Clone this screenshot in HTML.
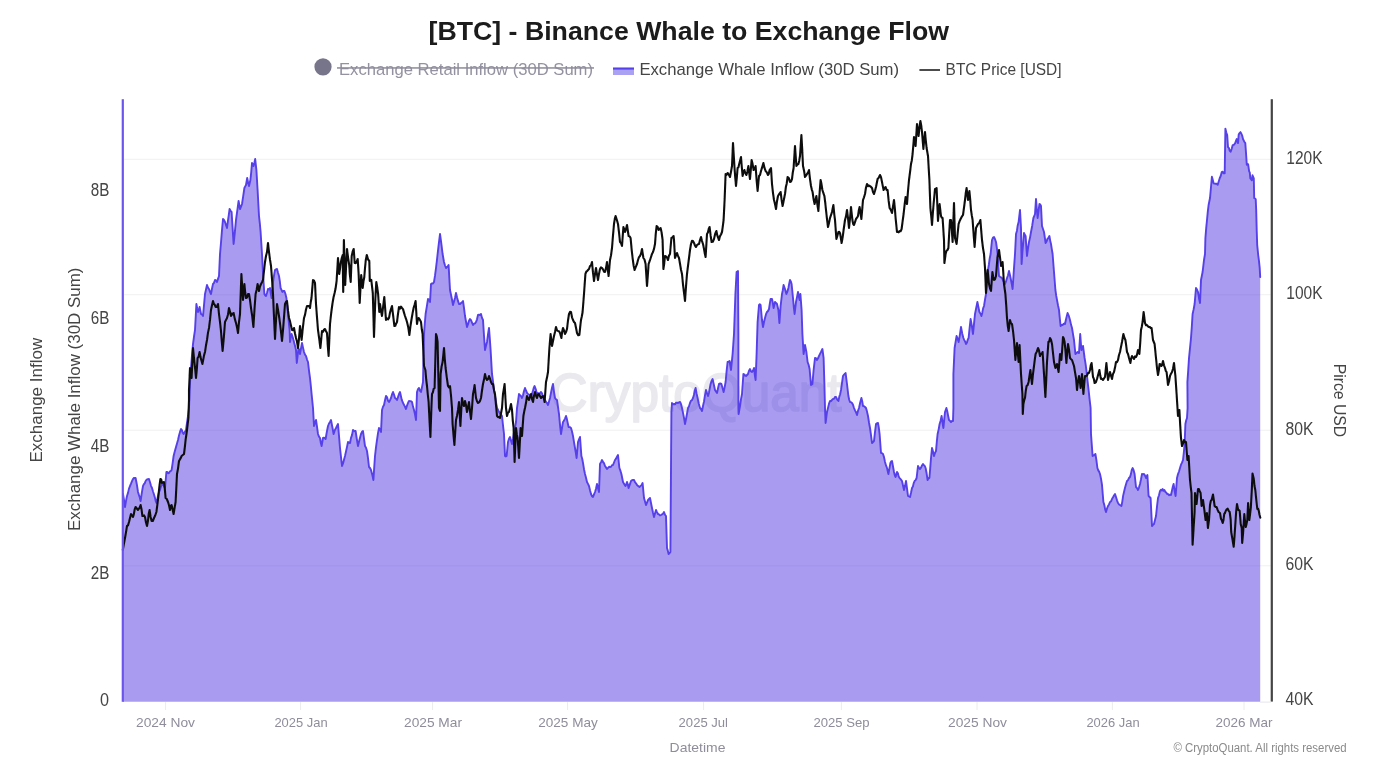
<!DOCTYPE html>
<html><head><meta charset="utf-8"><title>[BTC] - Binance Whale to Exchange Flow</title>
<style>
html,body{margin:0;padding:0;background:#fff;}
body{width:1385px;height:769px;overflow:hidden;font-family:"Liberation Sans", sans-serif;}
svg{display:block;}
svg text{font-family:"Liberation Sans", sans-serif;}
</style></head><body>
<svg width="1385" height="769" viewBox="0 0 1385 769">
<defs><filter id="soft" x="0" y="0" width="100%" height="100%"><feGaussianBlur stdDeviation="0.5"/></filter></defs>
<rect width="1385" height="769" fill="#fff"/>
<g filter="url(#soft)">
<!-- title -->
<text x="428.6" y="39.8" font-size="25" font-weight="700" fill="#1a1a1a" textLength="520.4" lengthAdjust="spacingAndGlyphs">[BTC] - Binance Whale to Exchange Flow</text>
<!-- legend -->
<circle cx="323" cy="66.8" r="8.6" fill="#77748a"/>
<text x="339" y="75" font-size="17" text-anchor="start" fill="#9492a1" textLength="254" lengthAdjust="spacingAndGlyphs">Exchange Retail Inflow (30D Sum)</text>
<rect x="337" y="67.2" width="257" height="1.5" fill="#8d8b99"/>
<rect x="613" y="67.6" width="21" height="7.4" fill="#aaa0f4"/>
<rect x="613" y="67.6" width="21" height="2" fill="#5540e9"/>
<text x="639.4" y="75" font-size="17" text-anchor="start" fill="#444" textLength="259.6" lengthAdjust="spacingAndGlyphs">Exchange Whale Inflow (30D Sum)</text>
<rect x="919.4" y="69.2" width="20.6" height="1.6" fill="#222"/>
<text x="945.6" y="75" font-size="17" text-anchor="start" fill="#444" textLength="116" lengthAdjust="spacingAndGlyphs">BTC Price [USD]</text>
<!-- grid -->
<line x1="124" x2="1271" y1="159.3" y2="159.3" stroke="#f0f0f0" stroke-width="1"/><line x1="124" x2="1271" y1="294.7" y2="294.7" stroke="#f0f0f0" stroke-width="1"/><line x1="124" x2="1271" y1="430.2" y2="430.2" stroke="#f0f0f0" stroke-width="1"/><line x1="124" x2="1271" y1="565.8" y2="565.8" stroke="#f0f0f0" stroke-width="1"/>
<line x1="165.6" x2="165.6" y1="702" y2="710" stroke="#ececec" stroke-width="1"/><line x1="300.6" x2="300.6" y1="702" y2="710" stroke="#ececec" stroke-width="1"/><line x1="432.6" x2="432.6" y1="702" y2="710" stroke="#ececec" stroke-width="1"/><line x1="567.6" x2="567.6" y1="702" y2="710" stroke="#ececec" stroke-width="1"/><line x1="703.6" x2="703.6" y1="702" y2="710" stroke="#ececec" stroke-width="1"/><line x1="841.4" x2="841.4" y1="702" y2="710" stroke="#ececec" stroke-width="1"/><line x1="977" x2="977" y1="702" y2="710" stroke="#ececec" stroke-width="1"/><line x1="1112.4" x2="1112.4" y1="702" y2="710" stroke="#ececec" stroke-width="1"/><line x1="1244" x2="1244" y1="702" y2="710" stroke="#ececec" stroke-width="1"/>
<!-- watermark -->
<text x="550.6" y="411.4" font-size="53" font-weight="400" fill="#e9e9ee" stroke="#e9e9ee" stroke-width="1.7" stroke-linejoin="round" textLength="291" lengthAdjust="spacingAndGlyphs">CryptoQuant</text>
<!-- area -->
<path d="M123.0,494.0 L124.0,500.2 L125.0,507.0 L126.0,500.9 L127.0,496.0 L128.0,492.9 L129.0,488.6 L130.0,486.0 L131.0,483.7 L132.0,481.1 L133.0,479.0 L133.9,477.9 L134.7,478.3 L135.6,478.0 L136.8,484.2 L138.0,492.0 L138.9,494.9 L139.7,497.2 L140.6,501.0 L141.8,492.8 L143.0,486.0 L143.9,484.2 L144.7,483.3 L145.6,481.0 L146.7,479.7 L147.9,479.2 L149.0,479.0 L150.0,482.2 L151.0,485.8 L152.0,488.0 L153.0,491.5 L154.0,494.5 L155.0,498.0 L155.8,501.4 L156.6,503.0 L157.8,496.7 L159.0,492.0 L160.0,490.0 L161.0,486.3 L162.0,484.0 L163.0,484.7 L164.0,486.0 L165.0,488.0 L166.4,472.0 L167.3,472.0 L168.1,473.2 L169.0,473.0 L169.9,471.4 L170.7,471.1 L171.6,470.0 L172.6,463.3 L173.6,456.0 L174.8,451.3 L176.0,447.0 L177.0,443.6 L178.0,440.0 L179.0,435.5 L180.0,431.9 L181.0,429.0 L181.9,430.1 L182.7,432.7 L183.6,434.0 L184.8,431.9 L186.0,430.0 L187.0,422.7 L188.0,416.0 L189.0,408.0 L190.4,374.0 L191.3,364.2 L192.1,353.9 L193.0,344.0 L194.0,336.6 L195.0,330.0 L196.4,304.0 L197.2,308.5 L198.0,312.0 L198.8,309.9 L199.6,307.0 L201.0,314.0 L202.0,314.5 L203.0,316.0 L204.0,305.1 L205.0,294.0 L206.0,289.5 L207.0,285.0 L208.0,287.7 L209.0,289.0 L210.0,291.9 L211.0,294.0 L212.0,288.6 L213.0,284.0 L214.0,282.9 L215.0,280.0 L216.0,280.3 L217.0,282.0 L218.0,278.9 L219.0,276.0 L220.0,254.0 L221.0,242.5 L222.0,230.0 L223.0,219.0 L224.0,219.9 L225.0,222.0 L226.0,225.0 L227.0,228.0 L227.9,220.8 L228.7,215.6 L229.6,209.0 L230.6,211.0 L231.6,212.0 L232.6,228.1 L233.6,244.0 L234.8,232.7 L236.0,220.0 L236.9,213.3 L237.7,207.7 L238.6,201.0 L240.0,209.0 L241.0,206.7 L242.0,204.0 L243.2,196.1 L244.4,188.0 L245.2,186.4 L246.0,185.0 L247.2,178.0 L248.1,182.6 L249.0,186.0 L250.4,180.0 L251.2,172.3 L252.0,163.0 L252.8,164.5 L253.6,166.0 L254.4,162.8 L255.2,159.0 L256.4,170.0 L257.6,190.0 L259.0,216.0 L259.8,223.2 L260.6,232.0 L262.0,254.0 L263.0,274.0 L264.4,294.0 L265.2,295.4 L266.0,296.0 L267.0,292.8 L268.0,289.0 L269.0,289.4 L270.0,288.0 L270.8,293.6 L271.6,298.0 L273.0,282.0 L274.0,275.6 L275.0,270.0 L276.0,269.3 L277.0,269.0 L278.0,272.8 L279.0,276.0 L279.8,281.1 L280.6,288.0 L281.5,289.9 L282.4,292.0 L283.4,290.9 L284.4,291.0 L285.4,293.8 L286.4,298.0 L287.2,305.2 L288.0,314.0 L288.8,322.5 L289.6,330.0 L290.0,342.0 L290.8,337.3 L291.6,334.0 L292.8,337.5 L294.0,342.0 L295.0,345.8 L296.0,350.0 L296.8,363.0 L297.6,356.2 L298.4,348.0 L299.2,350.2 L300.0,354.0 L301.0,348.4 L302.0,343.0 L303.0,347.6 L304.0,352.0 L305.0,354.7 L306.0,356.0 L307.0,359.6 L308.0,362.0 L309.0,370.7 L310.0,378.0 L310.8,385.6 L311.6,394.0 L313.0,408.0 L314.0,426.0 L315.0,422.8 L316.0,420.0 L317.0,426.7 L318.0,434.0 L319.0,436.7 L320.0,438.0 L320.8,442.8 L321.6,446.0 L323.0,438.0 L323.9,437.7 L324.7,438.1 L325.6,439.0 L326.8,432.0 L328.0,426.0 L329.0,423.5 L330.0,422.0 L331.0,420.0 L331.9,424.8 L332.7,428.9 L333.6,434.0 L334.8,430.1 L336.0,428.0 L337.0,425.9 L338.0,424.0 L339.0,435.8 L340.0,448.0 L341.0,457.1 L342.0,466.0 L343.0,463.5 L344.0,459.7 L345.0,456.0 L346.0,451.4 L347.0,446.9 L348.0,442.0 L349.0,442.8 L350.0,443.0 L351.0,437.9 L352.0,435.1 L353.0,430.0 L353.9,430.8 L354.7,431.3 L355.6,431.0 L356.8,439.0 L358.0,446.0 L359.0,441.8 L360.0,437.8 L361.0,434.0 L362.0,431.8 L363.0,431.0 L364.0,438.7 L365.0,446.0 L366.0,447.7 L367.0,451.0 L368.0,458.2 L369.0,467.0 L370.0,468.0 L371.0,470.0 L372.2,474.4 L373.4,480.0 L374.2,467.7 L375.0,456.0 L376.0,447.2 L377.0,440.0 L378.0,433.1 L379.0,428.0 L380.0,429.4 L381.0,432.0 L382.0,410.0 L383.0,406.8 L384.0,405.0 L385.0,400.3 L386.0,396.0 L387.0,397.1 L388.0,400.7 L389.0,402.0 L390.0,400.2 L391.0,398.0 L392.0,394.4 L393.0,392.0 L394.0,394.6 L395.0,398.0 L396.0,398.7 L397.0,400.0 L398.0,397.1 L399.0,394.0 L400.0,392.0 L400.9,396.0 L401.7,399.6 L402.6,402.0 L403.7,404.3 L404.9,406.6 L406.0,409.0 L407.0,405.6 L408.0,403.0 L409.0,401.0 L410.0,401.1 L411.0,401.2 L412.0,402.0 L413.0,406.6 L414.0,410.0 L415.0,414.4 L416.0,420.0 L417.0,392.0 L418.0,389.1 L419.0,388.0 L420.0,390.8 L421.0,392.0 L422.0,387.1 L423.0,382.0 L424.0,334.0 L424.8,323.4 L425.6,314.0 L426.8,306.6 L428.0,299.0 L429.0,299.6 L430.0,302.0 L431.0,284.0 L432.0,283.4 L433.0,283.5 L434.0,282.0 L435.0,275.7 L436.0,268.0 L436.8,261.4 L437.6,254.0 L438.8,243.6 L440.0,234.0 L440.9,240.4 L441.7,246.7 L442.6,254.0 L444.0,262.0 L445.0,265.5 L446.0,268.0 L446.9,267.1 L447.7,266.5 L448.6,265.0 L450.0,290.0 L451.0,294.7 L452.0,299.5 L453.0,305.0 L454.0,301.6 L455.0,297.9 L456.0,293.0 L457.0,297.3 L458.0,300.9 L459.0,304.0 L460.0,304.1 L461.0,303.0 L462.0,302.4 L463.0,301.0 L464.0,308.0 L465.0,316.0 L466.0,321.5 L467.0,327.0 L468.0,324.1 L469.0,320.8 L470.0,319.0 L471.0,320.2 L472.0,322.6 L473.0,325.0 L474.0,323.6 L475.0,323.3 L476.0,322.0 L477.0,319.3 L478.0,315.0 L479.0,314.6 L480.0,315.1 L481.0,314.0 L482.0,317.9 L483.0,320.0 L484.0,335.8 L485.0,350.0 L486.0,345.8 L487.0,342.0 L488.0,334.5 L489.0,328.0 L489.8,338.5 L490.6,350.0 L492.0,374.0 L493.0,381.5 L494.0,390.0 L495.0,395.5 L496.0,402.0 L497.0,408.0 L498.0,409.8 L499.0,411.9 L500.0,413.4 L501.0,414.4 L502.0,416.0 L503.0,425.3 L504.0,434.0 L505.0,456.0 L505.8,456.5 L506.6,456.0 L508.0,442.0 L509.0,438.8 L510.0,437.0 L511.0,440.8 L512.0,444.0 L513.0,438.7 L514.0,432.0 L515.0,427.5 L516.0,422.0 L517.0,408.0 L518.0,401.5 L519.0,394.0 L520.0,395.3 L521.0,396.1 L522.0,398.0 L523.0,395.2 L524.0,391.0 L525.0,388.0 L526.0,390.5 L527.0,392.8 L528.0,394.0 L529.0,394.5 L530.0,395.2 L531.0,396.0 L531.9,394.3 L532.8,391.4 L533.7,387.9 L534.6,386.0 L535.8,389.3 L537.0,394.0 L538.0,392.9 L539.0,393.7 L540.0,393.1 L541.0,392.0 L542.0,393.4 L543.0,396.6 L544.0,398.9 L545.0,400.0 L546.0,401.9 L547.0,403.1 L548.0,405.0 L549.0,401.6 L550.0,398.0 L551.0,392.7 L552.0,387.8 L553.0,384.0 L554.0,391.8 L555.0,398.0 L556.0,399.3 L557.0,400.0 L558.0,407.0 L559.0,414.0 L560.0,424.8 L561.0,434.0 L562.0,427.9 L563.0,422.0 L564.0,420.7 L565.0,418.6 L566.0,416.0 L566.9,419.1 L567.7,422.9 L568.6,427.0 L569.8,427.1 L571.0,428.0 L572.0,431.5 L573.0,436.0 L574.0,442.2 L575.0,448.0 L575.8,452.6 L576.6,458.0 L578.0,442.0 L579.0,439.4 L580.0,437.0 L581.4,456.0 L582.2,458.8 L583.0,463.0 L584.0,469.2 L585.0,474.0 L586.0,477.7 L587.0,482.0 L588.0,483.9 L589.0,486.0 L590.0,490.2 L591.0,494.0 L592.0,496.2 L593.0,497.0 L594.0,494.4 L595.0,492.0 L596.0,488.8 L597.0,484.0 L598.0,488.0 L599.0,492.0 L600.0,464.0 L601.0,462.1 L602.0,460.0 L603.0,462.0 L604.0,463.1 L605.0,466.0 L606.0,467.4 L607.0,469.0 L608.0,467.8 L609.0,466.8 L610.0,467.0 L611.0,466.9 L612.0,465.1 L613.0,465.0 L614.0,462.5 L615.0,460.0 L616.0,458.7 L617.0,456.8 L618.0,455.0 L619.4,468.0 L620.4,470.7 L621.4,474.0 L622.2,478.0 L623.0,482.0 L624.2,484.1 L625.4,486.0 L626.2,484.5 L627.0,482.0 L627.8,484.3 L628.6,488.0 L629.8,484.6 L631.0,481.0 L632.0,480.2 L633.0,479.9 L634.0,480.0 L635.0,482.2 L636.0,483.3 L637.0,485.0 L638.2,486.1 L639.4,487.0 L640.5,486.1 L641.5,485.1 L642.6,483.0 L644.0,498.0 L645.0,501.4 L646.0,505.0 L647.0,502.7 L648.0,500.0 L649.0,499.0 L650.0,498.0 L651.0,503.0 L652.0,508.0 L653.0,512.8 L654.0,517.0 L655.0,513.4 L656.0,510.0 L657.0,512.1 L658.0,514.0 L659.0,514.3 L660.0,515.5 L661.0,515.0 L662.0,514.4 L663.0,513.7 L664.0,512.0 L665.0,514.8 L666.0,516.0 L667.0,548.0 L667.8,550.6 L668.6,554.0 L669.5,553.1 L670.4,552.0 L671.0,468.0 L671.4,412.0 L672.0,403.0 L673.0,404.3 L674.0,404.0 L675.0,404.4 L676.0,402.8 L677.0,402.6 L678.0,403.0 L679.0,402.4 L680.0,402.0 L681.0,404.2 L682.0,408.0 L683.0,412.9 L684.0,417.9 L685.0,424.0 L686.0,419.0 L687.0,413.8 L688.0,408.0 L689.0,406.2 L690.0,403.0 L691.0,400.7 L692.0,400.1 L693.0,398.0 L693.9,395.0 L694.7,390.7 L695.6,388.0 L696.6,393.7 L697.6,398.0 L698.8,403.8 L700.0,408.0 L701.0,409.0 L702.0,411.0 L703.0,406.0 L704.0,401.5 L705.0,395.2 L706.0,390.0 L707.0,393.0 L708.0,396.0 L708.9,392.9 L709.7,388.6 L710.6,384.0 L711.6,380.9 L712.6,379.0 L713.8,384.4 L715.0,390.0 L716.0,391.5 L717.0,393.0 L718.0,388.2 L719.0,384.0 L720.2,383.5 L721.4,384.0 L722.5,387.7 L723.6,392.0 L724.6,387.4 L725.6,382.0 L726.6,371.1 L727.6,362.0 L728.6,361.6 L729.6,361.0 L731.0,370.0 L731.8,361.9 L732.6,354.0 L734.0,334.0 L735.4,294.0 L736.6,272.0 L738.0,271.0 L738.4,334.0 L738.4,408.0 L738.6,414.0 L740.0,406.0 L741.0,399.1 L742.0,394.0 L743.4,374.0 L744.3,374.4 L745.1,375.6 L746.0,376.0 L747.0,375.0 L748.0,374.0 L749.0,370.7 L750.0,369.0 L751.0,371.4 L752.0,372.0 L753.0,370.5 L754.0,368.0 L754.8,374.8 L755.6,380.0 L756.6,354.0 L757.6,322.0 L759.0,305.0 L759.8,304.3 L760.6,305.0 L762.0,320.0 L763.0,327.0 L764.0,322.1 L765.0,318.0 L766.0,314.2 L767.0,312.0 L768.0,311.0 L769.0,309.0 L769.8,303.6 L770.6,299.0 L772.0,299.0 L772.8,302.8 L773.6,308.0 L775.0,302.0 L776.0,302.9 L777.0,304.0 L778.4,310.0 L779.4,323.0 L780.6,306.0 L782.0,294.0 L782.8,290.2 L783.6,285.0 L785.0,289.0 L786.4,294.0 L787.4,291.6 L788.4,288.0 L789.2,283.6 L790.0,280.0 L790.8,281.4 L791.6,284.0 L793.0,298.0 L793.8,306.8 L794.6,314.0 L796.0,302.0 L797.0,297.1 L798.0,292.0 L798.8,296.4 L799.6,300.0 L800.4,294.0 L801.6,310.0 L802.4,334.0 L803.6,354.0 L805.0,345.0 L806.4,352.0 L807.6,362.0 L808.6,364.8 L809.6,369.0 L811.0,385.0 L812.4,384.0 L813.6,370.0 L815.0,358.0 L816.0,358.2 L817.0,360.0 L818.0,358.3 L819.0,356.0 L820.0,353.9 L821.0,352.0 L822.4,349.0 L823.6,358.0 L824.4,384.0 L825.0,408.0 L825.6,423.0 L827.0,412.0 L828.0,408.0 L829.0,403.7 L830.0,401.0 L831.0,401.1 L832.0,399.9 L833.0,399.0 L834.0,398.9 L835.0,396.9 L836.0,397.0 L837.2,399.6 L838.4,401.0 L839.3,396.6 L840.1,394.3 L841.0,390.0 L842.0,382.9 L843.0,376.0 L843.9,374.7 L844.7,374.1 L845.6,373.0 L847.0,384.0 L848.4,396.0 L849.2,399.8 L850.0,402.0 L851.0,402.1 L852.0,403.0 L853.0,404.8 L854.0,408.0 L855.0,410.4 L856.0,412.2 L857.0,415.0 L858.0,410.8 L859.0,408.0 L860.2,402.4 L861.4,398.0 L862.2,401.2 L863.0,406.0 L864.0,406.1 L865.0,407.0 L866.0,408.0 L867.0,411.6 L868.0,416.0 L869.0,422.5 L870.0,428.0 L871.0,435.1 L872.0,443.0 L873.0,442.0 L874.0,441.0 L875.0,431.9 L876.0,424.0 L877.0,423.2 L878.0,423.0 L878.8,427.6 L879.6,434.0 L881.0,453.0 L882.0,453.1 L883.0,454.0 L884.0,457.1 L885.0,462.0 L886.0,465.4 L887.0,468.0 L888.4,474.0 L889.4,468.6 L890.4,463.0 L891.2,461.4 L892.0,461.0 L893.0,466.5 L894.0,472.0 L894.8,475.3 L895.6,477.0 L897.0,472.0 L897.9,473.3 L898.7,476.6 L899.6,478.0 L900.8,479.4 L902.0,481.0 L903.0,485.5 L904.0,490.0 L905.0,486.1 L906.0,481.0 L907.0,488.3 L908.0,496.0 L909.0,496.5 L910.0,497.0 L911.0,492.8 L912.0,488.0 L912.9,486.5 L913.7,483.1 L914.6,481.0 L915.6,480.1 L916.6,478.0 L918.0,466.0 L919.0,467.9 L920.0,469.0 L921.0,467.6 L922.0,465.5 L923.0,464.0 L923.9,465.1 L924.7,465.9 L925.6,468.0 L926.6,473.3 L927.6,480.0 L928.5,478.2 L929.4,478.0 L930.2,468.4 L931.0,458.0 L932.0,448.0 L933.0,451.6 L934.0,456.0 L935.0,452.9 L936.0,451.0 L936.8,441.8 L937.6,434.0 L938.6,429.6 L939.6,424.0 L940.6,420.7 L941.6,416.0 L942.5,422.3 L943.4,428.0 L944.2,419.6 L945.0,412.0 L946.4,408.0 L947.3,411.5 L948.1,415.6 L949.0,420.0 L950.0,420.9 L951.0,422.0 L952.0,420.9 L953.0,421.0 L953.4,408.0 L953.4,374.0 L954.6,348.0 L955.6,341.9 L956.6,336.0 L957.6,338.6 L958.6,342.0 L959.8,335.3 L961.0,327.0 L962.2,333.4 L963.4,338.0 L964.3,340.1 L965.1,341.5 L966.0,344.0 L966.9,342.8 L967.7,339.7 L968.6,338.0 L969.6,328.2 L970.6,319.0 L971.8,325.6 L973.0,334.0 L974.0,323.8 L975.0,314.0 L976.2,308.0 L977.4,302.0 L978.4,307.0 L979.4,312.0 L980.4,313.5 L981.4,316.0 L982.3,312.7 L983.1,308.4 L984.0,306.0 L985.0,299.6 L986.0,294.0 L987.0,281.3 L988.0,270.0 L988.9,264.5 L989.7,258.5 L990.6,254.0 L992.0,240.0 L993.0,237.6 L994.0,237.0 L995.0,239.1 L996.0,242.0 L996.8,247.5 L997.6,254.0 L999.0,276.0 L1000.0,276.8 L1001.0,277.4 L1002.0,278.0 L1003.0,280.5 L1004.0,282.3 L1005.0,284.0 L1006.0,281.4 L1007.0,278.0 L1008.0,275.2 L1009.0,271.0 L1010.0,275.3 L1011.0,280.0 L1011.8,284.2 L1012.6,289.0 L1014.0,268.0 L1015.0,254.0 L1016.0,234.0 L1016.9,230.9 L1017.7,225.4 L1018.6,222.0 L1020.0,210.0 L1021.0,228.0 L1021.6,264.0 L1022.4,252.0 L1023.2,242.9 L1024.0,233.0 L1024.8,234.8 L1025.6,236.0 L1027.0,256.0 L1028.0,248.2 L1029.0,242.0 L1030.0,237.6 L1031.0,232.0 L1032.2,225.7 L1033.4,218.0 L1034.2,216.2 L1035.0,214.0 L1036.0,199.0 L1036.8,208.9 L1037.6,218.0 L1038.5,211.6 L1039.4,204.0 L1040.2,204.4 L1041.0,206.0 L1042.0,226.0 L1043.0,229.0 L1044.0,232.0 L1044.8,237.5 L1045.6,243.0 L1046.5,241.6 L1047.4,239.0 L1048.4,238.0 L1049.4,236.0 L1050.2,240.6 L1051.0,244.0 L1051.8,249.2 L1052.6,254.0 L1054.0,272.0 L1055.4,290.0 L1056.2,295.7 L1057.0,300.0 L1058.0,305.3 L1059.0,310.0 L1059.8,318.3 L1060.6,326.0 L1061.6,325.0 L1062.6,325.0 L1063.8,323.7 L1065.0,324.0 L1065.9,319.7 L1066.7,316.4 L1067.6,313.0 L1068.8,315.8 L1070.0,320.0 L1071.0,324.6 L1072.0,328.0 L1073.0,334.1 L1074.0,340.0 L1075.4,354.0 L1076.4,353.2 L1077.4,352.0 L1078.2,352.7 L1079.0,353.0 L1080.2,334.0 L1081.4,350.0 L1082.2,348.3 L1083.0,346.0 L1083.8,352.0 L1084.6,358.0 L1085.6,364.1 L1086.6,372.0 L1087.6,381.5 L1088.6,390.0 L1089.6,399.4 L1090.6,408.0 L1091.0,434.0 L1091.8,445.0 L1092.6,456.0 L1093.5,455.4 L1094.5,455.0 L1095.4,454.0 L1096.4,460.2 L1097.4,468.0 L1098.3,470.4 L1099.1,471.6 L1100.0,474.0 L1101.0,478.7 L1102.0,485.0 L1103.4,502.0 L1104.3,504.9 L1105.1,509.1 L1106.0,512.0 L1107.0,508.5 L1108.0,506.0 L1109.0,504.4 L1110.0,502.0 L1111.0,501.4 L1112.0,499.0 L1113.0,497.3 L1114.0,495.5 L1115.0,494.0 L1116.0,497.0 L1117.0,500.3 L1118.0,503.0 L1119.1,504.5 L1120.3,505.2 L1121.4,506.0 L1122.3,501.6 L1123.1,495.9 L1124.0,492.0 L1125.0,487.7 L1126.0,484.2 L1127.0,481.0 L1128.0,480.1 L1129.0,478.0 L1130.0,477.0 L1130.9,474.1 L1131.7,470.1 L1132.6,468.0 L1133.6,470.2 L1134.6,474.0 L1136.0,487.0 L1137.0,488.1 L1138.0,490.0 L1139.0,487.3 L1140.0,484.0 L1141.0,479.3 L1142.0,474.0 L1143.0,474.3 L1144.0,474.0 L1145.0,475.6 L1146.0,478.0 L1147.4,475.0 L1148.6,496.0 L1149.6,497.0 L1150.6,498.0 L1152.0,526.0 L1153.0,524.9 L1154.0,524.0 L1155.0,519.9 L1156.0,516.0 L1157.0,506.3 L1158.0,498.0 L1159.0,495.2 L1160.0,491.0 L1160.9,489.8 L1161.7,490.5 L1162.6,489.0 L1163.5,490.8 L1164.5,490.1 L1165.4,492.0 L1166.3,492.6 L1167.1,493.9 L1168.0,494.0 L1169.0,495.2 L1170.0,494.6 L1171.0,495.0 L1171.9,490.9 L1172.7,487.1 L1173.6,484.0 L1174.6,490.8 L1175.6,496.0 L1177.0,478.0 L1178.0,474.1 L1179.0,471.5 L1180.0,468.0 L1181.0,464.7 L1182.0,462.7 L1183.0,460.0 L1183.8,452.8 L1184.6,444.0 L1185.4,424.0 L1186.2,420.3 L1187.0,418.0 L1187.6,408.0 L1187.4,382.0 L1188.2,370.6 L1189.0,358.0 L1190.0,348.0 L1191.0,338.0 L1191.8,326.7 L1192.6,314.0 L1193.6,309.4 L1194.6,304.0 L1196.0,288.0 L1197.0,289.5 L1198.0,292.0 L1199.0,298.2 L1200.0,303.0 L1201.0,280.0 L1201.8,276.0 L1202.6,272.0 L1204.0,260.0 L1205.0,254.0 L1205.4,238.0 L1206.2,228.1 L1207.0,220.0 L1207.8,211.6 L1208.6,205.0 L1210.0,198.0 L1211.0,187.0 L1211.9,176.8 L1212.8,180.0 L1213.6,183.3 L1214.6,183.6 L1215.7,183.7 L1216.7,183.8 L1217.7,184.8 L1218.7,181.4 L1219.7,178.2 L1220.7,176.0 L1221.7,172.2 L1222.7,171.7 L1223.7,173.4 L1224.7,173.3 L1225.0,153.2 L1225.4,128.6 L1226.3,132.5 L1227.2,135.1 L1228.0,147.1 L1228.9,147.9 L1229.8,150.9 L1230.7,151.7 L1231.7,148.8 L1232.7,145.1 L1234.0,144.8 L1235.2,143.1 L1236.0,140.7 L1236.7,139.1 L1238.0,143.1 L1238.7,134.6 L1239.6,133.1 L1240.5,132.1 L1241.3,133.7 L1242.2,135.6 L1243.0,139.0 L1243.8,140.6 L1244.5,142.0 L1245.3,143.1 L1246.1,154.2 L1246.8,164.7 L1248.1,164.2 L1249.1,171.2 L1249.8,172.7 L1250.3,178.3 L1251.0,179.0 L1251.8,180.3 L1252.5,175.3 L1253.8,178.3 L1254.2,198.1 L1255.0,198.5 L1255.7,199.1 L1256.2,210.2 L1256.7,230.2 L1257.2,245.0 L1258.2,255.0 L1259.0,261.1 L1259.7,268.0 L1260.2,277.0 L1260.2,701.8 L123.0,701.8 Z" fill="#5138e2" fill-opacity="0.5" stroke="none"/>
<path d="M123.0,494.0 L124.0,500.2 L125.0,507.0 L126.0,500.9 L127.0,496.0 L128.0,492.9 L129.0,488.6 L130.0,486.0 L131.0,483.7 L132.0,481.1 L133.0,479.0 L133.9,477.9 L134.7,478.3 L135.6,478.0 L136.8,484.2 L138.0,492.0 L138.9,494.9 L139.7,497.2 L140.6,501.0 L141.8,492.8 L143.0,486.0 L143.9,484.2 L144.7,483.3 L145.6,481.0 L146.7,479.7 L147.9,479.2 L149.0,479.0 L150.0,482.2 L151.0,485.8 L152.0,488.0 L153.0,491.5 L154.0,494.5 L155.0,498.0 L155.8,501.4 L156.6,503.0 L157.8,496.7 L159.0,492.0 L160.0,490.0 L161.0,486.3 L162.0,484.0 L163.0,484.7 L164.0,486.0 L165.0,488.0 L166.4,472.0 L167.3,472.0 L168.1,473.2 L169.0,473.0 L169.9,471.4 L170.7,471.1 L171.6,470.0 L172.6,463.3 L173.6,456.0 L174.8,451.3 L176.0,447.0 L177.0,443.6 L178.0,440.0 L179.0,435.5 L180.0,431.9 L181.0,429.0 L181.9,430.1 L182.7,432.7 L183.6,434.0 L184.8,431.9 L186.0,430.0 L187.0,422.7 L188.0,416.0 L189.0,408.0 L190.4,374.0 L191.3,364.2 L192.1,353.9 L193.0,344.0 L194.0,336.6 L195.0,330.0 L196.4,304.0 L197.2,308.5 L198.0,312.0 L198.8,309.9 L199.6,307.0 L201.0,314.0 L202.0,314.5 L203.0,316.0 L204.0,305.1 L205.0,294.0 L206.0,289.5 L207.0,285.0 L208.0,287.7 L209.0,289.0 L210.0,291.9 L211.0,294.0 L212.0,288.6 L213.0,284.0 L214.0,282.9 L215.0,280.0 L216.0,280.3 L217.0,282.0 L218.0,278.9 L219.0,276.0 L220.0,254.0 L221.0,242.5 L222.0,230.0 L223.0,219.0 L224.0,219.9 L225.0,222.0 L226.0,225.0 L227.0,228.0 L227.9,220.8 L228.7,215.6 L229.6,209.0 L230.6,211.0 L231.6,212.0 L232.6,228.1 L233.6,244.0 L234.8,232.7 L236.0,220.0 L236.9,213.3 L237.7,207.7 L238.6,201.0 L240.0,209.0 L241.0,206.7 L242.0,204.0 L243.2,196.1 L244.4,188.0 L245.2,186.4 L246.0,185.0 L247.2,178.0 L248.1,182.6 L249.0,186.0 L250.4,180.0 L251.2,172.3 L252.0,163.0 L252.8,164.5 L253.6,166.0 L254.4,162.8 L255.2,159.0 L256.4,170.0 L257.6,190.0 L259.0,216.0 L259.8,223.2 L260.6,232.0 L262.0,254.0 L263.0,274.0 L264.4,294.0 L265.2,295.4 L266.0,296.0 L267.0,292.8 L268.0,289.0 L269.0,289.4 L270.0,288.0 L270.8,293.6 L271.6,298.0 L273.0,282.0 L274.0,275.6 L275.0,270.0 L276.0,269.3 L277.0,269.0 L278.0,272.8 L279.0,276.0 L279.8,281.1 L280.6,288.0 L281.5,289.9 L282.4,292.0 L283.4,290.9 L284.4,291.0 L285.4,293.8 L286.4,298.0 L287.2,305.2 L288.0,314.0 L288.8,322.5 L289.6,330.0 L290.0,342.0 L290.8,337.3 L291.6,334.0 L292.8,337.5 L294.0,342.0 L295.0,345.8 L296.0,350.0 L296.8,363.0 L297.6,356.2 L298.4,348.0 L299.2,350.2 L300.0,354.0 L301.0,348.4 L302.0,343.0 L303.0,347.6 L304.0,352.0 L305.0,354.7 L306.0,356.0 L307.0,359.6 L308.0,362.0 L309.0,370.7 L310.0,378.0 L310.8,385.6 L311.6,394.0 L313.0,408.0 L314.0,426.0 L315.0,422.8 L316.0,420.0 L317.0,426.7 L318.0,434.0 L319.0,436.7 L320.0,438.0 L320.8,442.8 L321.6,446.0 L323.0,438.0 L323.9,437.7 L324.7,438.1 L325.6,439.0 L326.8,432.0 L328.0,426.0 L329.0,423.5 L330.0,422.0 L331.0,420.0 L331.9,424.8 L332.7,428.9 L333.6,434.0 L334.8,430.1 L336.0,428.0 L337.0,425.9 L338.0,424.0 L339.0,435.8 L340.0,448.0 L341.0,457.1 L342.0,466.0 L343.0,463.5 L344.0,459.7 L345.0,456.0 L346.0,451.4 L347.0,446.9 L348.0,442.0 L349.0,442.8 L350.0,443.0 L351.0,437.9 L352.0,435.1 L353.0,430.0 L353.9,430.8 L354.7,431.3 L355.6,431.0 L356.8,439.0 L358.0,446.0 L359.0,441.8 L360.0,437.8 L361.0,434.0 L362.0,431.8 L363.0,431.0 L364.0,438.7 L365.0,446.0 L366.0,447.7 L367.0,451.0 L368.0,458.2 L369.0,467.0 L370.0,468.0 L371.0,470.0 L372.2,474.4 L373.4,480.0 L374.2,467.7 L375.0,456.0 L376.0,447.2 L377.0,440.0 L378.0,433.1 L379.0,428.0 L380.0,429.4 L381.0,432.0 L382.0,410.0 L383.0,406.8 L384.0,405.0 L385.0,400.3 L386.0,396.0 L387.0,397.1 L388.0,400.7 L389.0,402.0 L390.0,400.2 L391.0,398.0 L392.0,394.4 L393.0,392.0 L394.0,394.6 L395.0,398.0 L396.0,398.7 L397.0,400.0 L398.0,397.1 L399.0,394.0 L400.0,392.0 L400.9,396.0 L401.7,399.6 L402.6,402.0 L403.7,404.3 L404.9,406.6 L406.0,409.0 L407.0,405.6 L408.0,403.0 L409.0,401.0 L410.0,401.1 L411.0,401.2 L412.0,402.0 L413.0,406.6 L414.0,410.0 L415.0,414.4 L416.0,420.0 L417.0,392.0 L418.0,389.1 L419.0,388.0 L420.0,390.8 L421.0,392.0 L422.0,387.1 L423.0,382.0 L424.0,334.0 L424.8,323.4 L425.6,314.0 L426.8,306.6 L428.0,299.0 L429.0,299.6 L430.0,302.0 L431.0,284.0 L432.0,283.4 L433.0,283.5 L434.0,282.0 L435.0,275.7 L436.0,268.0 L436.8,261.4 L437.6,254.0 L438.8,243.6 L440.0,234.0 L440.9,240.4 L441.7,246.7 L442.6,254.0 L444.0,262.0 L445.0,265.5 L446.0,268.0 L446.9,267.1 L447.7,266.5 L448.6,265.0 L450.0,290.0 L451.0,294.7 L452.0,299.5 L453.0,305.0 L454.0,301.6 L455.0,297.9 L456.0,293.0 L457.0,297.3 L458.0,300.9 L459.0,304.0 L460.0,304.1 L461.0,303.0 L462.0,302.4 L463.0,301.0 L464.0,308.0 L465.0,316.0 L466.0,321.5 L467.0,327.0 L468.0,324.1 L469.0,320.8 L470.0,319.0 L471.0,320.2 L472.0,322.6 L473.0,325.0 L474.0,323.6 L475.0,323.3 L476.0,322.0 L477.0,319.3 L478.0,315.0 L479.0,314.6 L480.0,315.1 L481.0,314.0 L482.0,317.9 L483.0,320.0 L484.0,335.8 L485.0,350.0 L486.0,345.8 L487.0,342.0 L488.0,334.5 L489.0,328.0 L489.8,338.5 L490.6,350.0 L492.0,374.0 L493.0,381.5 L494.0,390.0 L495.0,395.5 L496.0,402.0 L497.0,408.0 L498.0,409.8 L499.0,411.9 L500.0,413.4 L501.0,414.4 L502.0,416.0 L503.0,425.3 L504.0,434.0 L505.0,456.0 L505.8,456.5 L506.6,456.0 L508.0,442.0 L509.0,438.8 L510.0,437.0 L511.0,440.8 L512.0,444.0 L513.0,438.7 L514.0,432.0 L515.0,427.5 L516.0,422.0 L517.0,408.0 L518.0,401.5 L519.0,394.0 L520.0,395.3 L521.0,396.1 L522.0,398.0 L523.0,395.2 L524.0,391.0 L525.0,388.0 L526.0,390.5 L527.0,392.8 L528.0,394.0 L529.0,394.5 L530.0,395.2 L531.0,396.0 L531.9,394.3 L532.8,391.4 L533.7,387.9 L534.6,386.0 L535.8,389.3 L537.0,394.0 L538.0,392.9 L539.0,393.7 L540.0,393.1 L541.0,392.0 L542.0,393.4 L543.0,396.6 L544.0,398.9 L545.0,400.0 L546.0,401.9 L547.0,403.1 L548.0,405.0 L549.0,401.6 L550.0,398.0 L551.0,392.7 L552.0,387.8 L553.0,384.0 L554.0,391.8 L555.0,398.0 L556.0,399.3 L557.0,400.0 L558.0,407.0 L559.0,414.0 L560.0,424.8 L561.0,434.0 L562.0,427.9 L563.0,422.0 L564.0,420.7 L565.0,418.6 L566.0,416.0 L566.9,419.1 L567.7,422.9 L568.6,427.0 L569.8,427.1 L571.0,428.0 L572.0,431.5 L573.0,436.0 L574.0,442.2 L575.0,448.0 L575.8,452.6 L576.6,458.0 L578.0,442.0 L579.0,439.4 L580.0,437.0 L581.4,456.0 L582.2,458.8 L583.0,463.0 L584.0,469.2 L585.0,474.0 L586.0,477.7 L587.0,482.0 L588.0,483.9 L589.0,486.0 L590.0,490.2 L591.0,494.0 L592.0,496.2 L593.0,497.0 L594.0,494.4 L595.0,492.0 L596.0,488.8 L597.0,484.0 L598.0,488.0 L599.0,492.0 L600.0,464.0 L601.0,462.1 L602.0,460.0 L603.0,462.0 L604.0,463.1 L605.0,466.0 L606.0,467.4 L607.0,469.0 L608.0,467.8 L609.0,466.8 L610.0,467.0 L611.0,466.9 L612.0,465.1 L613.0,465.0 L614.0,462.5 L615.0,460.0 L616.0,458.7 L617.0,456.8 L618.0,455.0 L619.4,468.0 L620.4,470.7 L621.4,474.0 L622.2,478.0 L623.0,482.0 L624.2,484.1 L625.4,486.0 L626.2,484.5 L627.0,482.0 L627.8,484.3 L628.6,488.0 L629.8,484.6 L631.0,481.0 L632.0,480.2 L633.0,479.9 L634.0,480.0 L635.0,482.2 L636.0,483.3 L637.0,485.0 L638.2,486.1 L639.4,487.0 L640.5,486.1 L641.5,485.1 L642.6,483.0 L644.0,498.0 L645.0,501.4 L646.0,505.0 L647.0,502.7 L648.0,500.0 L649.0,499.0 L650.0,498.0 L651.0,503.0 L652.0,508.0 L653.0,512.8 L654.0,517.0 L655.0,513.4 L656.0,510.0 L657.0,512.1 L658.0,514.0 L659.0,514.3 L660.0,515.5 L661.0,515.0 L662.0,514.4 L663.0,513.7 L664.0,512.0 L665.0,514.8 L666.0,516.0 L667.0,548.0 L667.8,550.6 L668.6,554.0 L669.5,553.1 L670.4,552.0 L671.0,468.0 L671.4,412.0 L672.0,403.0 L673.0,404.3 L674.0,404.0 L675.0,404.4 L676.0,402.8 L677.0,402.6 L678.0,403.0 L679.0,402.4 L680.0,402.0 L681.0,404.2 L682.0,408.0 L683.0,412.9 L684.0,417.9 L685.0,424.0 L686.0,419.0 L687.0,413.8 L688.0,408.0 L689.0,406.2 L690.0,403.0 L691.0,400.7 L692.0,400.1 L693.0,398.0 L693.9,395.0 L694.7,390.7 L695.6,388.0 L696.6,393.7 L697.6,398.0 L698.8,403.8 L700.0,408.0 L701.0,409.0 L702.0,411.0 L703.0,406.0 L704.0,401.5 L705.0,395.2 L706.0,390.0 L707.0,393.0 L708.0,396.0 L708.9,392.9 L709.7,388.6 L710.6,384.0 L711.6,380.9 L712.6,379.0 L713.8,384.4 L715.0,390.0 L716.0,391.5 L717.0,393.0 L718.0,388.2 L719.0,384.0 L720.2,383.5 L721.4,384.0 L722.5,387.7 L723.6,392.0 L724.6,387.4 L725.6,382.0 L726.6,371.1 L727.6,362.0 L728.6,361.6 L729.6,361.0 L731.0,370.0 L731.8,361.9 L732.6,354.0 L734.0,334.0 L735.4,294.0 L736.6,272.0 L738.0,271.0 L738.4,334.0 L738.4,408.0 L738.6,414.0 L740.0,406.0 L741.0,399.1 L742.0,394.0 L743.4,374.0 L744.3,374.4 L745.1,375.6 L746.0,376.0 L747.0,375.0 L748.0,374.0 L749.0,370.7 L750.0,369.0 L751.0,371.4 L752.0,372.0 L753.0,370.5 L754.0,368.0 L754.8,374.8 L755.6,380.0 L756.6,354.0 L757.6,322.0 L759.0,305.0 L759.8,304.3 L760.6,305.0 L762.0,320.0 L763.0,327.0 L764.0,322.1 L765.0,318.0 L766.0,314.2 L767.0,312.0 L768.0,311.0 L769.0,309.0 L769.8,303.6 L770.6,299.0 L772.0,299.0 L772.8,302.8 L773.6,308.0 L775.0,302.0 L776.0,302.9 L777.0,304.0 L778.4,310.0 L779.4,323.0 L780.6,306.0 L782.0,294.0 L782.8,290.2 L783.6,285.0 L785.0,289.0 L786.4,294.0 L787.4,291.6 L788.4,288.0 L789.2,283.6 L790.0,280.0 L790.8,281.4 L791.6,284.0 L793.0,298.0 L793.8,306.8 L794.6,314.0 L796.0,302.0 L797.0,297.1 L798.0,292.0 L798.8,296.4 L799.6,300.0 L800.4,294.0 L801.6,310.0 L802.4,334.0 L803.6,354.0 L805.0,345.0 L806.4,352.0 L807.6,362.0 L808.6,364.8 L809.6,369.0 L811.0,385.0 L812.4,384.0 L813.6,370.0 L815.0,358.0 L816.0,358.2 L817.0,360.0 L818.0,358.3 L819.0,356.0 L820.0,353.9 L821.0,352.0 L822.4,349.0 L823.6,358.0 L824.4,384.0 L825.0,408.0 L825.6,423.0 L827.0,412.0 L828.0,408.0 L829.0,403.7 L830.0,401.0 L831.0,401.1 L832.0,399.9 L833.0,399.0 L834.0,398.9 L835.0,396.9 L836.0,397.0 L837.2,399.6 L838.4,401.0 L839.3,396.6 L840.1,394.3 L841.0,390.0 L842.0,382.9 L843.0,376.0 L843.9,374.7 L844.7,374.1 L845.6,373.0 L847.0,384.0 L848.4,396.0 L849.2,399.8 L850.0,402.0 L851.0,402.1 L852.0,403.0 L853.0,404.8 L854.0,408.0 L855.0,410.4 L856.0,412.2 L857.0,415.0 L858.0,410.8 L859.0,408.0 L860.2,402.4 L861.4,398.0 L862.2,401.2 L863.0,406.0 L864.0,406.1 L865.0,407.0 L866.0,408.0 L867.0,411.6 L868.0,416.0 L869.0,422.5 L870.0,428.0 L871.0,435.1 L872.0,443.0 L873.0,442.0 L874.0,441.0 L875.0,431.9 L876.0,424.0 L877.0,423.2 L878.0,423.0 L878.8,427.6 L879.6,434.0 L881.0,453.0 L882.0,453.1 L883.0,454.0 L884.0,457.1 L885.0,462.0 L886.0,465.4 L887.0,468.0 L888.4,474.0 L889.4,468.6 L890.4,463.0 L891.2,461.4 L892.0,461.0 L893.0,466.5 L894.0,472.0 L894.8,475.3 L895.6,477.0 L897.0,472.0 L897.9,473.3 L898.7,476.6 L899.6,478.0 L900.8,479.4 L902.0,481.0 L903.0,485.5 L904.0,490.0 L905.0,486.1 L906.0,481.0 L907.0,488.3 L908.0,496.0 L909.0,496.5 L910.0,497.0 L911.0,492.8 L912.0,488.0 L912.9,486.5 L913.7,483.1 L914.6,481.0 L915.6,480.1 L916.6,478.0 L918.0,466.0 L919.0,467.9 L920.0,469.0 L921.0,467.6 L922.0,465.5 L923.0,464.0 L923.9,465.1 L924.7,465.9 L925.6,468.0 L926.6,473.3 L927.6,480.0 L928.5,478.2 L929.4,478.0 L930.2,468.4 L931.0,458.0 L932.0,448.0 L933.0,451.6 L934.0,456.0 L935.0,452.9 L936.0,451.0 L936.8,441.8 L937.6,434.0 L938.6,429.6 L939.6,424.0 L940.6,420.7 L941.6,416.0 L942.5,422.3 L943.4,428.0 L944.2,419.6 L945.0,412.0 L946.4,408.0 L947.3,411.5 L948.1,415.6 L949.0,420.0 L950.0,420.9 L951.0,422.0 L952.0,420.9 L953.0,421.0 L953.4,408.0 L953.4,374.0 L954.6,348.0 L955.6,341.9 L956.6,336.0 L957.6,338.6 L958.6,342.0 L959.8,335.3 L961.0,327.0 L962.2,333.4 L963.4,338.0 L964.3,340.1 L965.1,341.5 L966.0,344.0 L966.9,342.8 L967.7,339.7 L968.6,338.0 L969.6,328.2 L970.6,319.0 L971.8,325.6 L973.0,334.0 L974.0,323.8 L975.0,314.0 L976.2,308.0 L977.4,302.0 L978.4,307.0 L979.4,312.0 L980.4,313.5 L981.4,316.0 L982.3,312.7 L983.1,308.4 L984.0,306.0 L985.0,299.6 L986.0,294.0 L987.0,281.3 L988.0,270.0 L988.9,264.5 L989.7,258.5 L990.6,254.0 L992.0,240.0 L993.0,237.6 L994.0,237.0 L995.0,239.1 L996.0,242.0 L996.8,247.5 L997.6,254.0 L999.0,276.0 L1000.0,276.8 L1001.0,277.4 L1002.0,278.0 L1003.0,280.5 L1004.0,282.3 L1005.0,284.0 L1006.0,281.4 L1007.0,278.0 L1008.0,275.2 L1009.0,271.0 L1010.0,275.3 L1011.0,280.0 L1011.8,284.2 L1012.6,289.0 L1014.0,268.0 L1015.0,254.0 L1016.0,234.0 L1016.9,230.9 L1017.7,225.4 L1018.6,222.0 L1020.0,210.0 L1021.0,228.0 L1021.6,264.0 L1022.4,252.0 L1023.2,242.9 L1024.0,233.0 L1024.8,234.8 L1025.6,236.0 L1027.0,256.0 L1028.0,248.2 L1029.0,242.0 L1030.0,237.6 L1031.0,232.0 L1032.2,225.7 L1033.4,218.0 L1034.2,216.2 L1035.0,214.0 L1036.0,199.0 L1036.8,208.9 L1037.6,218.0 L1038.5,211.6 L1039.4,204.0 L1040.2,204.4 L1041.0,206.0 L1042.0,226.0 L1043.0,229.0 L1044.0,232.0 L1044.8,237.5 L1045.6,243.0 L1046.5,241.6 L1047.4,239.0 L1048.4,238.0 L1049.4,236.0 L1050.2,240.6 L1051.0,244.0 L1051.8,249.2 L1052.6,254.0 L1054.0,272.0 L1055.4,290.0 L1056.2,295.7 L1057.0,300.0 L1058.0,305.3 L1059.0,310.0 L1059.8,318.3 L1060.6,326.0 L1061.6,325.0 L1062.6,325.0 L1063.8,323.7 L1065.0,324.0 L1065.9,319.7 L1066.7,316.4 L1067.6,313.0 L1068.8,315.8 L1070.0,320.0 L1071.0,324.6 L1072.0,328.0 L1073.0,334.1 L1074.0,340.0 L1075.4,354.0 L1076.4,353.2 L1077.4,352.0 L1078.2,352.7 L1079.0,353.0 L1080.2,334.0 L1081.4,350.0 L1082.2,348.3 L1083.0,346.0 L1083.8,352.0 L1084.6,358.0 L1085.6,364.1 L1086.6,372.0 L1087.6,381.5 L1088.6,390.0 L1089.6,399.4 L1090.6,408.0 L1091.0,434.0 L1091.8,445.0 L1092.6,456.0 L1093.5,455.4 L1094.5,455.0 L1095.4,454.0 L1096.4,460.2 L1097.4,468.0 L1098.3,470.4 L1099.1,471.6 L1100.0,474.0 L1101.0,478.7 L1102.0,485.0 L1103.4,502.0 L1104.3,504.9 L1105.1,509.1 L1106.0,512.0 L1107.0,508.5 L1108.0,506.0 L1109.0,504.4 L1110.0,502.0 L1111.0,501.4 L1112.0,499.0 L1113.0,497.3 L1114.0,495.5 L1115.0,494.0 L1116.0,497.0 L1117.0,500.3 L1118.0,503.0 L1119.1,504.5 L1120.3,505.2 L1121.4,506.0 L1122.3,501.6 L1123.1,495.9 L1124.0,492.0 L1125.0,487.7 L1126.0,484.2 L1127.0,481.0 L1128.0,480.1 L1129.0,478.0 L1130.0,477.0 L1130.9,474.1 L1131.7,470.1 L1132.6,468.0 L1133.6,470.2 L1134.6,474.0 L1136.0,487.0 L1137.0,488.1 L1138.0,490.0 L1139.0,487.3 L1140.0,484.0 L1141.0,479.3 L1142.0,474.0 L1143.0,474.3 L1144.0,474.0 L1145.0,475.6 L1146.0,478.0 L1147.4,475.0 L1148.6,496.0 L1149.6,497.0 L1150.6,498.0 L1152.0,526.0 L1153.0,524.9 L1154.0,524.0 L1155.0,519.9 L1156.0,516.0 L1157.0,506.3 L1158.0,498.0 L1159.0,495.2 L1160.0,491.0 L1160.9,489.8 L1161.7,490.5 L1162.6,489.0 L1163.5,490.8 L1164.5,490.1 L1165.4,492.0 L1166.3,492.6 L1167.1,493.9 L1168.0,494.0 L1169.0,495.2 L1170.0,494.6 L1171.0,495.0 L1171.9,490.9 L1172.7,487.1 L1173.6,484.0 L1174.6,490.8 L1175.6,496.0 L1177.0,478.0 L1178.0,474.1 L1179.0,471.5 L1180.0,468.0 L1181.0,464.7 L1182.0,462.7 L1183.0,460.0 L1183.8,452.8 L1184.6,444.0 L1185.4,424.0 L1186.2,420.3 L1187.0,418.0 L1187.6,408.0 L1187.4,382.0 L1188.2,370.6 L1189.0,358.0 L1190.0,348.0 L1191.0,338.0 L1191.8,326.7 L1192.6,314.0 L1193.6,309.4 L1194.6,304.0 L1196.0,288.0 L1197.0,289.5 L1198.0,292.0 L1199.0,298.2 L1200.0,303.0 L1201.0,280.0 L1201.8,276.0 L1202.6,272.0 L1204.0,260.0 L1205.0,254.0 L1205.4,238.0 L1206.2,228.1 L1207.0,220.0 L1207.8,211.6 L1208.6,205.0 L1210.0,198.0 L1211.0,187.0 L1211.9,176.8 L1212.8,180.0 L1213.6,183.3 L1214.6,183.6 L1215.7,183.7 L1216.7,183.8 L1217.7,184.8 L1218.7,181.4 L1219.7,178.2 L1220.7,176.0 L1221.7,172.2 L1222.7,171.7 L1223.7,173.4 L1224.7,173.3 L1225.0,153.2 L1225.4,128.6 L1226.3,132.5 L1227.2,135.1 L1228.0,147.1 L1228.9,147.9 L1229.8,150.9 L1230.7,151.7 L1231.7,148.8 L1232.7,145.1 L1234.0,144.8 L1235.2,143.1 L1236.0,140.7 L1236.7,139.1 L1238.0,143.1 L1238.7,134.6 L1239.6,133.1 L1240.5,132.1 L1241.3,133.7 L1242.2,135.6 L1243.0,139.0 L1243.8,140.6 L1244.5,142.0 L1245.3,143.1 L1246.1,154.2 L1246.8,164.7 L1248.1,164.2 L1249.1,171.2 L1249.8,172.7 L1250.3,178.3 L1251.0,179.0 L1251.8,180.3 L1252.5,175.3 L1253.8,178.3 L1254.2,198.1 L1255.0,198.5 L1255.7,199.1 L1256.2,210.2 L1256.7,230.2 L1257.2,245.0 L1258.2,255.0 L1259.0,261.1 L1259.7,268.0 L1260.2,277.0" fill="none" stroke="#5540e9" stroke-width="1.9" stroke-linejoin="round" stroke-linecap="round"/>
<!-- price -->
<path d="M122.8,550.0 L123.9,543.8 L125.0,538.0 L126.0,532.2 L127.0,526.0 L128.0,525.4 L129.0,522.0 L130.0,517.9 L131.0,514.0 L132.0,515.5 L133.0,517.0 L133.9,513.9 L134.7,509.3 L135.6,507.0 L136.8,508.5 L138.0,510.0 L138.9,508.7 L139.7,507.6 L140.6,505.0 L141.5,509.2 L142.4,516.0 L143.3,515.7 L144.1,515.4 L145.0,517.0 L146.0,522.5 L147.0,526.0 L147.9,521.3 L148.7,513.9 L149.6,510.0 L150.6,517.0 L151.6,521.0 L152.8,521.0 L154.0,518.0 L155.2,515.5 L156.4,512.0 L157.4,504.4 L158.4,496.0 L159.4,486.4 L160.4,479.0 L161.2,479.4 L162.0,483.0 L163.0,482.6 L164.0,482.0 L164.8,488.6 L165.6,498.0 L166.8,499.0 L168.0,502.0 L169.0,505.2 L170.0,510.0 L170.8,506.0 L171.6,505.0 L172.6,509.4 L173.6,514.0 L174.6,507.8 L175.6,502.0 L177.0,474.0 L178.0,468.6 L179.0,461.0 L179.9,459.4 L180.7,458.1 L181.6,456.0 L182.8,455.0 L184.0,454.0 L184.8,447.5 L185.6,440.0 L187.0,430.0 L188.4,418.0 L189.0,400.0 L189.0,390.0 L190.0,368.0 L190.8,372.9 L191.6,378.0 L193.0,348.0 L194.4,362.0 L195.2,369.3 L196.0,378.0 L196.8,369.6 L197.6,358.0 L198.6,356.6 L199.6,352.0 L200.5,357.1 L201.5,360.7 L202.4,364.0 L203.3,359.4 L204.1,355.1 L205.0,352.0 L206.0,345.3 L207.0,340.0 L208.0,332.6 L209.0,328.0 L210.0,319.9 L211.0,310.0 L212.0,305.2 L213.0,301.0 L213.9,304.1 L214.7,304.6 L215.6,307.0 L216.8,307.0 L218.0,304.0 L219.0,314.1 L220.0,322.0 L220.9,330.1 L221.7,340.4 L222.6,351.0 L223.8,337.8 L225.0,322.0 L226.0,319.9 L227.0,318.0 L228.0,314.5 L229.0,308.0 L230.0,311.7 L231.0,316.0 L231.9,313.6 L232.7,314.4 L233.6,313.0 L234.8,318.9 L236.0,323.0 L237.0,327.3 L238.0,333.0 L239.0,322.2 L240.0,314.0 L241.4,274.0 L242.2,286.5 L243.0,300.0 L244.4,284.0 L245.2,292.5 L246.0,298.0 L247.0,297.5 L248.0,294.1 L249.0,294.0 L250.0,300.2 L251.0,308.0 L252.2,316.2 L253.4,327.0 L254.5,309.1 L255.6,294.0 L256.6,290.0 L257.6,284.0 L259.0,291.0 L260.0,286.5 L261.0,284.0 L262.0,282.2 L263.0,280.0 L264.0,270.8 L265.0,262.0 L266.0,256.0 L267.0,252.0 L268.0,243.0 L269.0,252.0 L270.0,259.7 L271.0,266.0 L272.0,278.8 L273.0,294.0 L274.0,317.0 L275.0,339.0 L276.0,320.3 L277.0,304.0 L278.0,309.7 L279.0,316.0 L280.0,323.4 L281.0,331.9 L282.0,341.0 L283.0,330.2 L284.0,317.3 L285.0,304.0 L286.0,301.9 L287.0,301.0 L288.0,310.7 L289.0,318.0 L290.0,321.1 L291.0,325.7 L292.0,330.0 L293.0,330.1 L294.0,328.0 L295.0,333.5 L296.0,338.0 L297.0,341.7 L298.0,348.0 L299.0,338.6 L300.0,326.0 L300.8,332.1 L301.6,340.0 L302.8,328.2 L304.0,318.0 L305.0,314.9 L306.0,309.5 L307.0,306.0 L308.0,306.0 L309.0,306.0 L310.0,308.0 L310.8,301.7 L311.5,298.0 L312.2,289.3 L313.0,280.0 L314.0,280.7 L315.0,283.0 L316.0,304.0 L317.0,317.3 L318.0,330.0 L319.2,338.6 L320.4,348.0 L321.2,339.4 L322.0,331.0 L323.0,331.8 L324.0,329.6 L325.0,329.0 L326.0,331.2 L327.0,333.0 L327.8,345.7 L328.6,356.0 L330.0,324.0 L331.2,313.0 L332.4,304.0 L333.5,297.4 L334.6,293.0 L335.6,288.3 L336.6,281.0 L338.0,258.0 L339.2,274.0 L339.9,269.5 L340.7,263.0 L341.7,258.2 L342.7,255.0 L343.2,292.0 L343.9,240.0 L345.2,285.0 L346.1,266.0 L347.0,249.0 L348.1,257.8 L349.2,265.0 L349.9,274.9 L350.7,282.0 L351.7,256.0 L352.7,251.5 L353.7,249.0 L354.7,263.0 L355.7,263.1 L356.7,261.6 L357.7,259.0 L358.7,275.0 L359.7,303.0 L360.4,289.3 L361.2,275.0 L361.9,281.2 L362.7,288.0 L363.5,281.2 L364.3,277.0 L365.1,267.0 L365.8,260.0 L366.8,255.0 L368.1,259.5 L369.3,261.0 L369.8,281.0 L370.6,279.7 L371.3,280.0 L372.1,287.2 L372.8,293.0 L374.0,337.0 L375.3,300.0 L376.3,282.0 L377.2,287.2 L378.1,294.0 L379.3,312.0 L380.0,304.0 L381.0,311.0 L382.0,316.0 L383.1,306.8 L384.3,297.0 L385.1,307.8 L386.0,320.0 L387.0,318.3 L388.0,319.4 L389.0,318.0 L390.0,312.6 L391.0,309.1 L392.0,306.0 L393.2,316.2 L394.4,326.0 L395.3,325.8 L396.1,323.7 L397.0,322.0 L398.0,313.8 L399.0,307.0 L400.0,308.7 L401.0,306.7 L402.0,308.0 L403.0,309.1 L404.0,312.6 L405.0,316.0 L406.0,318.8 L407.0,322.0 L408.2,327.1 L409.4,335.0 L410.4,326.5 L411.4,320.0 L412.5,313.6 L413.6,308.0 L414.6,304.7 L415.6,301.0 L417.0,324.0 L417.8,319.8 L418.6,318.0 L419.8,319.6 L421.0,322.0 L421.8,329.3 L422.6,334.0 L424.0,366.0 L425.4,370.0 L426.2,379.5 L427.0,386.0 L427.8,394.5 L428.6,402.0 L429.5,420.1 L430.4,437.0 L431.4,408.0 L432.0,394.0 L432.9,392.3 L433.7,388.8 L434.6,388.0 L436.0,334.0 L436.8,336.5 L437.6,342.0 L439.0,408.0 L440.0,411.0 L440.6,374.0 L441.6,366.5 L442.6,362.0 L444.0,348.0 L444.8,359.3 L445.6,368.0 L446.8,377.6 L448.0,386.0 L449.0,387.5 L450.0,386.0 L451.0,395.5 L452.0,408.0 L452.6,424.0 L453.5,434.9 L454.4,445.0 L455.2,432.4 L456.0,420.0 L457.0,415.7 L458.0,410.0 L459.0,402.0 L460.4,426.0 L461.2,411.4 L462.0,398.0 L463.0,403.6 L464.0,406.0 L465.0,401.0 L466.0,405.1 L467.0,412.0 L468.0,407.1 L469.0,402.0 L470.0,411.3 L471.0,419.0 L472.0,407.8 L473.0,394.0 L473.8,390.3 L474.6,385.0 L476.0,398.0 L477.0,401.2 L478.0,403.0 L479.0,402.3 L480.0,401.0 L481.0,398.0 L482.0,390.5 L483.0,384.0 L484.0,379.6 L485.0,374.0 L486.0,378.3 L487.0,380.0 L488.0,379.2 L489.0,376.0 L490.0,378.7 L491.0,382.0 L492.0,383.9 L493.0,384.0 L494.0,390.2 L495.0,394.0 L496.0,405.2 L497.0,416.0 L498.0,417.1 L499.0,417.0 L500.0,418.0 L501.0,413.3 L502.0,408.0 L503.0,394.0 L503.8,389.3 L504.6,384.0 L506.0,408.0 L507.0,416.0 L508.0,412.7 L509.0,412.0 L510.0,408.4 L511.0,404.0 L512.0,410.0 L512.8,420.6 L513.6,428.0 L514.6,462.0 L516.0,428.0 L516.8,434.2 L517.6,438.0 L519.0,458.0 L519.8,443.7 L520.6,428.0 L522.0,436.0 L523.4,416.0 L524.2,411.6 L525.0,408.0 L526.0,402.8 L527.0,396.0 L528.0,398.3 L529.0,400.0 L530.0,396.8 L531.0,394.0 L532.0,399.1 L533.0,402.0 L534.0,395.7 L535.0,392.0 L536.0,395.8 L537.0,398.0 L538.0,394.5 L539.0,394.0 L540.0,396.3 L541.0,398.0 L542.0,396.9 L543.0,396.0 L543.8,398.1 L544.6,402.0 L546.0,382.0 L547.0,377.6 L548.0,372.0 L549.4,348.0 L550.6,334.0 L552.0,346.0 L553.0,341.0 L554.0,336.0 L555.0,331.9 L556.0,327.0 L557.0,330.3 L558.0,331.0 L559.0,331.2 L560.0,333.0 L561.4,338.0 L562.2,331.4 L563.0,328.0 L564.0,330.4 L565.0,334.0 L566.0,332.1 L567.0,329.0 L568.0,320.5 L569.0,314.0 L570.0,311.9 L571.0,312.0 L572.0,317.3 L573.0,320.0 L574.0,322.0 L575.0,323.0 L576.0,327.8 L577.0,333.0 L578.2,335.3 L579.4,335.0 L580.2,326.9 L581.0,320.0 L581.8,316.5 L582.6,312.0 L584.0,294.0 L585.4,274.0 L586.3,271.7 L587.1,271.1 L588.0,270.0 L589.0,269.0 L590.0,266.0 L591.0,265.3 L592.0,262.0 L593.0,272.7 L594.0,281.0 L595.0,274.1 L596.0,268.0 L597.0,274.3 L598.0,280.0 L599.0,273.9 L600.0,269.0 L601.0,267.3 L602.0,268.0 L603.0,269.3 L604.0,271.7 L605.0,272.0 L606.0,268.1 L607.0,262.0 L607.8,269.7 L608.6,276.0 L610.0,260.0 L611.0,255.4 L612.0,248.0 L613.0,235.3 L614.0,224.0 L614.8,218.9 L615.6,216.0 L616.8,219.8 L618.0,224.0 L619.0,232.3 L620.0,242.0 L621.0,243.1 L622.0,246.0 L623.4,227.0 L624.2,229.2 L625.0,232.0 L626.0,228.9 L627.0,225.0 L627.8,230.5 L628.6,236.0 L629.6,236.4 L630.6,238.0 L631.6,249.1 L632.6,258.0 L633.6,265.5 L634.6,270.0 L635.8,266.8 L637.0,264.0 L638.0,260.0 L639.0,257.2 L640.0,256.0 L641.0,253.7 L642.0,249.0 L643.4,258.0 L644.5,259.5 L645.6,264.0 L647.0,286.0 L647.8,275.7 L648.6,264.0 L649.8,260.7 L651.0,257.0 L652.0,253.9 L653.0,252.0 L654.0,248.9 L655.0,244.0 L655.8,233.5 L656.6,226.0 L657.6,226.8 L658.6,230.0 L659.6,228.9 L660.6,228.0 L661.6,232.5 L662.6,240.0 L663.4,269.0 L664.2,263.6 L665.0,256.0 L666.0,256.5 L667.0,257.5 L668.0,260.0 L669.0,255.6 L670.0,254.0 L671.4,238.0 L672.5,237.4 L673.6,236.0 L674.0,240.0 L675.0,258.0 L676.0,255.3 L677.0,253.0 L678.0,255.9 L679.0,258.0 L680.0,263.8 L681.0,269.7 L682.0,274.0 L683.0,284.5 L684.0,292.6 L685.0,301.0 L686.0,286.5 L687.0,274.0 L688.0,265.9 L689.0,258.0 L690.0,250.0 L691.0,244.0 L692.0,240.9 L693.0,241.0 L694.0,242.9 L695.0,245.7 L696.0,247.0 L697.0,245.0 L698.0,244.3 L699.0,244.0 L700.0,240.0 L701.0,237.0 L702.0,241.1 L703.0,244.0 L703.9,248.4 L704.7,253.0 L705.6,257.0 L707.0,234.0 L707.9,232.5 L708.7,229.0 L709.6,227.0 L710.6,235.4 L711.6,242.0 L712.8,241.8 L714.0,239.0 L715.2,233.7 L716.4,231.0 L717.3,235.4 L718.1,237.7 L719.0,240.0 L720.0,236.1 L721.0,234.5 L722.0,232.0 L722.8,226.4 L723.6,220.0 L724.6,200.0 L725.6,174.0 L726.6,174.8 L727.6,173.0 L728.8,174.6 L730.0,177.0 L731.0,171.7 L732.0,166.0 L733.0,143.0 L734.4,166.0 L735.2,177.2 L736.0,186.0 L736.8,177.9 L737.6,168.0 L738.4,167.4 L739.2,164.0 L740.1,160.4 L741.0,157.0 L741.8,167.0 L742.6,176.0 L743.5,172.1 L744.4,170.0 L745.4,173.2 L746.4,175.0 L747.4,171.5 L748.4,166.0 L749.2,173.0 L750.0,179.0 L750.8,170.2 L751.6,160.0 L752.6,164.1 L753.6,170.0 L754.6,169.3 L755.6,166.0 L756.6,180.0 L757.6,191.0 L759.0,176.0 L760.0,175.0 L761.0,171.0 L762.2,167.1 L763.4,163.0 L764.5,167.9 L765.6,171.0 L766.8,172.4 L768.0,175.0 L768.8,173.8 L769.6,170.0 L771.0,168.0 L772.0,184.0 L773.0,193.1 L774.0,200.0 L775.0,204.0 L776.0,209.0 L777.0,201.2 L778.0,196.0 L778.9,194.5 L779.7,193.5 L780.6,192.0 L781.6,199.9 L782.6,206.0 L783.8,200.0 L785.0,194.0 L785.9,186.8 L786.7,183.7 L787.6,177.0 L788.8,178.1 L790.0,182.0 L791.0,181.5 L792.0,179.0 L792.8,172.5 L793.6,168.0 L795.0,146.0 L796.4,166.0 L797.4,164.5 L798.4,164.0 L799.2,160.9 L800.0,156.0 L801.4,135.0 L802.2,149.3 L803.0,166.0 L804.0,170.4 L805.0,177.0 L806.0,175.6 L807.0,174.0 L808.0,172.7 L809.0,170.0 L810.0,179.1 L811.0,186.0 L811.8,189.6 L812.6,192.0 L813.6,199.4 L814.6,204.0 L815.5,200.0 L816.4,196.0 L817.4,204.9 L818.4,211.0 L819.5,194.2 L820.6,180.0 L821.5,184.1 L822.4,190.0 L823.4,193.1 L824.4,196.0 L825.2,202.3 L826.0,210.0 L827.0,219.2 L828.0,227.0 L829.0,222.9 L830.0,218.0 L831.0,215.1 L832.0,212.0 L833.4,205.0 L834.2,213.6 L835.0,220.0 L836.4,239.0 L837.4,235.7 L838.4,232.0 L839.2,231.9 L840.0,233.0 L840.8,237.6 L841.6,243.0 L842.6,237.6 L843.6,230.0 L845.0,220.0 L846.0,216.3 L847.0,210.0 L848.0,218.1 L849.0,228.0 L850.0,218.6 L851.0,207.0 L852.4,220.0 L853.2,224.0 L854.0,225.0 L855.0,222.1 L856.0,219.0 L857.0,217.7 L858.0,216.0 L858.8,210.5 L859.6,207.0 L860.5,213.1 L861.4,219.0 L862.2,209.5 L863.0,200.0 L864.0,197.3 L865.0,194.0 L866.0,187.5 L867.0,184.0 L867.9,186.2 L868.7,185.4 L869.6,186.0 L870.8,186.7 L872.0,188.0 L873.0,192.0 L874.0,194.0 L875.0,190.7 L876.0,187.0 L876.8,183.0 L877.6,179.0 L878.8,177.6 L880.0,175.0 L881.0,177.1 L882.0,182.0 L882.8,186.1 L883.6,190.0 L884.6,188.2 L885.6,187.0 L886.6,190.0 L887.6,190.0 L888.6,200.4 L889.6,208.0 L890.8,209.8 L892.0,213.0 L893.0,206.4 L894.0,200.0 L894.8,207.8 L895.6,218.0 L897.0,232.0 L897.9,231.5 L898.7,232.3 L899.6,231.0 L900.6,231.3 L901.6,229.0 L902.6,221.4 L903.6,214.0 L904.6,204.9 L905.6,197.0 L907.0,204.0 L908.0,191.0 L909.0,180.0 L910.0,172.4 L911.0,164.0 L911.8,160.4 L912.6,154.0 L914.0,137.0 L914.8,140.3 L915.6,146.0 L917.0,124.0 L917.8,130.9 L918.6,136.0 L919.5,127.0 L920.4,121.0 L921.2,125.5 L922.0,132.0 L923.4,149.0 L924.2,139.6 L925.0,132.0 L925.8,140.6 L926.6,148.0 L928.0,156.0 L929.4,180.0 L930.4,208.0 L931.2,215.9 L932.0,225.0 L932.8,214.0 L933.6,204.0 L935.0,189.0 L935.8,188.9 L936.6,188.0 L938.0,221.0 L938.8,211.2 L939.6,204.0 L941.0,216.0 L941.8,217.7 L942.6,218.0 L944.0,240.0 L944.4,263.0 L945.6,254.0 L946.5,250.8 L947.5,250.0 L948.4,248.0 L949.2,233.2 L950.0,220.0 L951.0,220.0 L951.8,230.0 L952.6,242.0 L954.0,203.0 L955.0,238.0 L955.8,241.1 L956.6,244.0 L957.6,233.8 L958.6,224.0 L959.6,221.1 L960.6,219.0 L961.8,216.7 L963.0,215.0 L964.0,207.6 L965.0,200.0 L965.8,192.9 L966.6,188.0 L968.0,200.0 L969.4,191.0 L970.2,199.6 L971.0,210.0 L971.8,215.4 L972.6,220.0 L973.6,233.9 L974.6,247.0 L976.0,228.0 L977.0,226.1 L978.0,224.0 L979.2,223.1 L980.4,220.0 L981.2,230.4 L982.0,240.0 L983.0,248.1 L984.0,254.0 L985.0,268.0 L986.0,293.0 L986.8,280.6 L987.6,270.0 L989.0,284.0 L990.0,288.3 L991.0,291.0 L992.4,272.0 L993.2,277.0 L994.0,280.0 L995.0,279.3 L996.0,276.0 L997.4,258.0 L998.2,253.4 L999.0,250.0 L1000.0,257.4 L1001.0,266.0 L1001.8,265.4 L1002.6,262.0 L1004.0,284.0 L1005.4,294.0 L1006.2,305.1 L1007.0,318.0 L1007.8,326.1 L1008.6,331.0 L1010.0,320.0 L1011.0,323.2 L1012.0,324.0 L1013.0,330.8 L1014.0,340.0 L1015.4,360.0 L1016.2,350.7 L1017.0,343.0 L1017.8,353.2 L1018.6,362.0 L1019.6,345.0 L1021.0,374.0 L1022.4,394.0 L1022.8,414.0 L1023.4,404.0 L1024.2,400.2 L1025.0,398.0 L1025.8,390.7 L1026.6,386.0 L1027.6,385.1 L1028.6,382.0 L1029.5,375.7 L1030.4,370.0 L1031.2,377.9 L1032.0,384.0 L1033.0,373.8 L1034.0,366.0 L1034.8,359.7 L1035.6,354.0 L1036.8,351.6 L1038.0,348.0 L1039.0,350.5 L1040.0,356.0 L1040.9,353.7 L1041.7,353.9 L1042.6,352.0 L1044.0,374.0 L1045.4,397.0 L1046.2,380.8 L1047.0,362.0 L1048.4,342.0 L1049.2,341.5 L1050.0,338.0 L1051.0,339.8 L1052.0,344.0 L1053.0,353.0 L1054.0,362.0 L1055.4,368.0 L1056.2,366.8 L1057.0,364.0 L1057.8,368.0 L1058.6,372.0 L1060.0,354.0 L1061.4,360.0 L1062.2,349.1 L1063.0,337.0 L1063.8,338.5 L1064.6,342.0 L1065.5,351.1 L1066.4,363.0 L1067.2,352.2 L1068.0,344.0 L1069.0,349.5 L1070.0,358.0 L1071.0,359.2 L1072.0,360.0 L1073.0,363.0 L1074.0,366.0 L1075.0,372.2 L1076.0,378.0 L1077.0,390.0 L1078.0,381.9 L1079.0,376.0 L1079.8,381.0 L1080.6,388.0 L1082.0,374.0 L1083.4,394.0 L1084.2,384.1 L1085.0,376.0 L1086.0,376.1 L1087.0,375.6 L1088.0,373.0 L1089.0,372.9 L1090.0,370.0 L1090.8,365.2 L1091.6,363.0 L1093.0,377.0 L1093.8,378.6 L1094.6,383.0 L1095.8,382.4 L1097.0,379.0 L1098.2,374.4 L1099.4,370.0 L1100.2,375.3 L1101.0,379.0 L1102.0,378.9 L1103.0,380.0 L1104.0,378.4 L1105.0,377.0 L1106.4,363.0 L1107.2,371.5 L1108.0,380.0 L1109.0,375.8 L1110.0,372.0 L1111.0,375.8 L1112.0,379.0 L1113.0,373.9 L1114.0,372.0 L1115.0,367.6 L1116.0,362.0 L1117.0,362.1 L1118.0,360.0 L1119.0,355.0 L1120.0,352.0 L1121.0,346.9 L1122.0,342.0 L1123.4,334.0 L1124.4,337.8 L1125.4,340.0 L1126.2,345.7 L1127.0,352.0 L1128.0,354.0 L1129.0,358.0 L1130.4,363.0 L1131.2,358.4 L1132.0,356.0 L1133.0,357.5 L1134.0,359.0 L1135.0,356.4 L1136.0,357.0 L1137.0,354.8 L1138.0,350.0 L1139.4,354.0 L1140.2,343.0 L1141.0,330.0 L1141.8,326.7 L1142.6,322.0 L1143.6,312.0 L1145.0,323.0 L1146.0,325.2 L1147.0,325.0 L1148.0,326.4 L1149.0,327.0 L1149.9,327.0 L1150.7,328.0 L1151.6,328.0 L1153.0,340.0 L1153.8,342.0 L1154.6,344.0 L1156.0,358.0 L1157.0,368.0 L1158.0,375.0 L1158.8,370.5 L1159.6,364.0 L1160.5,364.2 L1161.4,366.0 L1162.2,364.8 L1163.0,361.0 L1164.0,365.3 L1165.0,368.0 L1165.8,370.9 L1166.6,372.0 L1168.0,385.0 L1169.0,381.5 L1170.0,376.0 L1171.0,373.7 L1172.0,372.0 L1173.0,368.8 L1174.0,363.0 L1175.4,376.0 L1176.6,394.0 L1178.0,416.0 L1179.4,410.0 L1180.2,425.2 L1181.0,438.0 L1182.0,446.0 L1183.0,443.6 L1184.0,440.0 L1185.0,441.9 L1186.0,442.0 L1187.4,460.0 L1188.6,456.0 L1190.0,480.0 L1190.8,487.3 L1191.5,493.0 L1192.6,544.7 L1193.6,528.0 L1194.6,512.0 L1195.0,493.0 L1195.8,499.2 L1196.6,504.0 L1198.0,489.0 L1198.9,489.0 L1199.7,491.2 L1200.6,493.0 L1201.6,506.0 L1203.0,500.0 L1203.8,505.9 L1204.6,512.0 L1205.6,520.0 L1206.9,513.0 L1207.9,528.0 L1209.0,520.0 L1210.0,505.0 L1210.8,500.9 L1211.6,500.0 L1213.0,494.6 L1213.8,499.8 L1214.6,506.0 L1215.6,506.9 L1216.6,507.0 L1217.6,509.9 L1218.6,512.0 L1220.0,513.0 L1221.0,519.0 L1221.8,520.1 L1222.7,523.0 L1223.5,519.9 L1224.2,514.0 L1225.0,513.0 L1225.7,511.0 L1226.7,509.3 L1227.7,508.7 L1228.7,510.9 L1229.7,512.0 L1230.7,520.0 L1231.2,532.0 L1232.5,539.6 L1233.7,546.7 L1234.5,536.5 L1235.2,526.0 L1236.2,511.0 L1237.0,504.0 L1238.2,510.0 L1239.0,510.1 L1239.7,511.0 L1240.7,524.0 L1241.7,528.0 L1242.2,543.0 L1243.0,534.1 L1243.8,522.0 L1244.3,514.0 L1245.0,521.0 L1245.8,527.0 L1246.5,524.1 L1247.3,520.0 L1248.1,503.0 L1249.3,520.0 L1250.0,514.8 L1250.8,508.0 L1251.8,490.0 L1252.5,473.6 L1253.8,479.0 L1254.5,486.0 L1255.3,490.0 L1256.3,500.0 L1257.3,509.0 L1258.0,508.5 L1258.8,511.0 L1259.5,514.7 L1260.3,517.7" fill="none" stroke="#111" stroke-width="2.1" stroke-linejoin="round" stroke-linecap="round"/>
<!-- axes -->
<rect x="121.7" y="99.2" width="2.2" height="602.6" fill="#6a57ec"/>
<rect x="1270.7" y="99.2" width="2.2" height="602.4" fill="#444"/>
<rect x="1260" y="701.6" width="11" height="1" fill="#e6e6ea"/>
<text x="90.8" y="196.4" font-size="17.5" text-anchor="start" fill="#444" textLength="18.6" lengthAdjust="spacingAndGlyphs">8B</text><text x="90.8" y="324" font-size="17.5" text-anchor="start" fill="#444" textLength="18.6" lengthAdjust="spacingAndGlyphs">6B</text><text x="90.8" y="451.5" font-size="17.5" text-anchor="start" fill="#444" textLength="18.6" lengthAdjust="spacingAndGlyphs">4B</text><text x="90.8" y="579" font-size="17.5" text-anchor="start" fill="#444" textLength="18.6" lengthAdjust="spacingAndGlyphs">2B</text><text x="100" y="706" font-size="17.5" text-anchor="start" fill="#444" textLength="9" lengthAdjust="spacingAndGlyphs">0</text>
<text x="1286.3" y="163.5" font-size="17.5" text-anchor="start" fill="#444" textLength="36.2" lengthAdjust="spacingAndGlyphs">120K</text><text x="1286.3" y="299.1" font-size="17.5" text-anchor="start" fill="#444" textLength="36.2" lengthAdjust="spacingAndGlyphs">100K</text><text x="1285.4" y="434.5" font-size="17.5" text-anchor="start" fill="#444" textLength="28" lengthAdjust="spacingAndGlyphs">80K</text><text x="1285.4" y="569.9" font-size="17.5" text-anchor="start" fill="#444" textLength="28" lengthAdjust="spacingAndGlyphs">60K</text><text x="1285.4" y="705.4" font-size="17.5" text-anchor="start" fill="#444" textLength="28" lengthAdjust="spacingAndGlyphs">40K</text>
<text x="136.0" y="727.4" font-size="13" text-anchor="start" fill="#8f8d9b" textLength="59" lengthAdjust="spacingAndGlyphs">2024 Nov</text><text x="274.4" y="727.4" font-size="13" text-anchor="start" fill="#8f8d9b" textLength="53.2" lengthAdjust="spacingAndGlyphs">2025 Jan</text><text x="404.0" y="727.4" font-size="13" text-anchor="start" fill="#8f8d9b" textLength="58" lengthAdjust="spacingAndGlyphs">2025 Mar</text><text x="538.25" y="727.4" font-size="13" text-anchor="start" fill="#8f8d9b" textLength="59.5" lengthAdjust="spacingAndGlyphs">2025 May</text><text x="678.5999999999999" y="727.4" font-size="13" text-anchor="start" fill="#8f8d9b" textLength="49.4" lengthAdjust="spacingAndGlyphs">2025 Jul</text><text x="813.4" y="727.4" font-size="13" text-anchor="start" fill="#8f8d9b" textLength="56.2" lengthAdjust="spacingAndGlyphs">2025 Sep</text><text x="948.0" y="727.4" font-size="13" text-anchor="start" fill="#8f8d9b" textLength="59" lengthAdjust="spacingAndGlyphs">2025 Nov</text><text x="1086.4" y="727.4" font-size="13" text-anchor="start" fill="#8f8d9b" textLength="53.2" lengthAdjust="spacingAndGlyphs">2026 Jan</text><text x="1215.5" y="727.4" font-size="13" text-anchor="start" fill="#8f8d9b" textLength="57" lengthAdjust="spacingAndGlyphs">2026 Mar</text>
<text x="669.6" y="752" font-size="13" text-anchor="start" fill="#8f8d9b" textLength="55.8" lengthAdjust="spacingAndGlyphs">Datetime</text>
<text x="1173.4" y="751.6" font-size="12" text-anchor="start" fill="#8a8a8a" textLength="173.2" lengthAdjust="spacingAndGlyphs">© CryptoQuant. All rights reserved</text>
<g transform="translate(41.5,400.2) rotate(-90)"><text x="-62.4" y="0" font-size="17" text-anchor="start" fill="#444" textLength="124.8" lengthAdjust="spacingAndGlyphs">Exchange Inflow</text></g>
<g transform="translate(80,399.3) rotate(-90)"><text x="-131.7" y="0" font-size="17" text-anchor="start" fill="#444" textLength="263.4" lengthAdjust="spacingAndGlyphs">Exchange Whale Inflow (30D Sum)</text></g>
<g transform="translate(1333.5,400.4) rotate(90)"><text x="-36.7" y="0" font-size="17" text-anchor="start" fill="#444" textLength="73.4" lengthAdjust="spacingAndGlyphs">Pirce USD</text></g>
</g>
</svg>
</body></html>
